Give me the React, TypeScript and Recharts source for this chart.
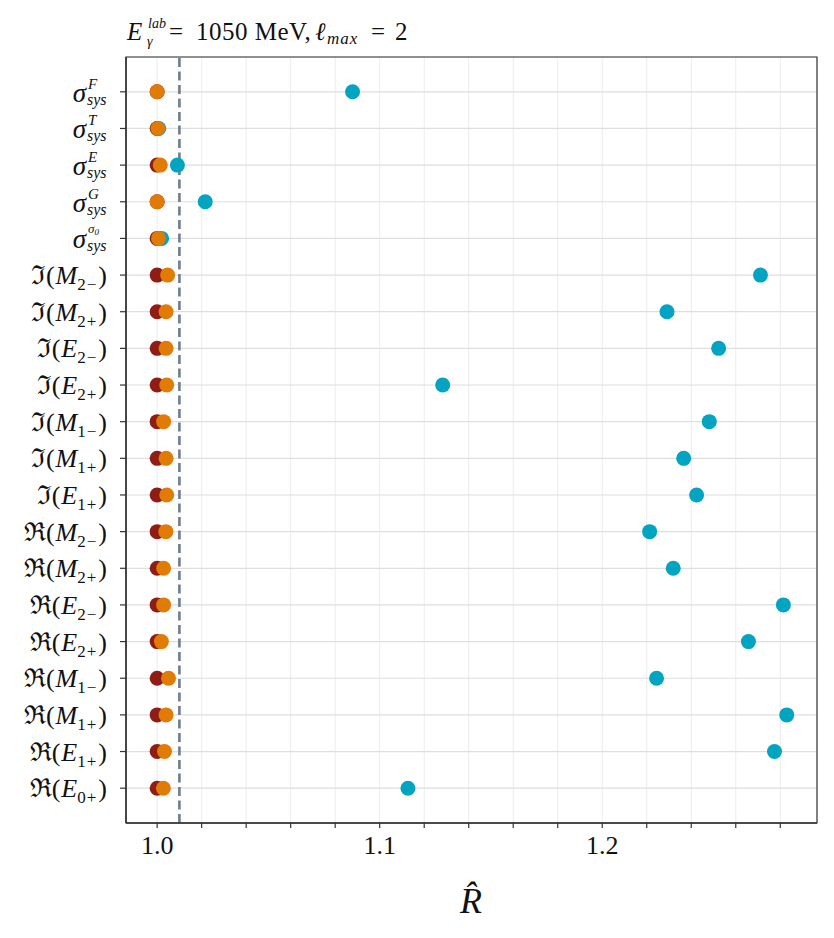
import React from 'react'
import {
  ScatterChart,
  Scatter,
  XAxis,
  YAxis,
  CartesianGrid,
  ReferenceLine,
  ReferenceArea,
} from 'recharts'

// rows from top to bottom
const rowLabels = [
  'σ^F_sys', 'σ^T_sys', 'σ^E_sys', 'σ^G_sys', 'σ^σ0_sys',
  'ℑ(M_2−)', 'ℑ(M_2+)', 'ℑ(E_2−)', 'ℑ(E_2+)', 'ℑ(M_1−)', 'ℑ(M_1+)', 'ℑ(E_1+)',
  'ℜ(M_2−)', 'ℜ(M_2+)', 'ℜ(E_2−)', 'ℜ(E_2+)', 'ℜ(M_1−)', 'ℜ(M_1+)', 'ℜ(E_1+)', 'ℜ(E_0+)',
]

const redValues = [
  1.0, 1.0, 1.0, 1.0, 1.0,
  1.0, 1.0, 1.0, 1.0, 1.0, 1.0, 1.0,
  1.0, 1.0, 1.0, 1.0, 1.0, 1.0, 1.0, 1.0,
]

const orangeValues = [
  1.0, 1.0003, 1.0014, 1.0, 1.0006,
  1.0047, 1.004, 1.004, 1.0043, 1.0029, 1.004, 1.0043,
  1.0039, 1.0029, 1.0029, 1.0019, 1.0051, 1.004, 1.0033, 1.0028,
]

const tealValues = [
  1.0878, 1.0007, 1.0091, 1.0216, 1.002,
  1.2711, 1.2291, 1.2523, 1.1283, 1.2481, 1.2366, 1.2424,
  1.2213, 1.2319, 1.2814, 1.2657, 1.2244, 1.2829, 1.2774, 1.1127,
]

const xTicks = [1.0, 1.02, 1.04, 1.06, 1.08, 1.1, 1.12, 1.14, 1.16, 1.18, 1.2, 1.22, 1.24, 1.26, 1.28]
const xMajor = [1.0, 1.1, 1.2]
const threshold = 1.01

const rows = rowLabels.map((_, i) => i)
const toPoints = (vals: number[]) => vals.map((v, i) => ({ x: v, row: i }))

const FONT = '"Liberation Serif", "DejaVu Serif", serif'

const dot = (color: string) => (props: any) =>
  <circle cx={props.cx} cy={props.cy} r={7.5} fill={color} />

const YTick = (props: any) => {
  const { x, y, payload } = props
  const lab: string = rowLabels[payload.value]
  if (lab.startsWith('σ^')) {
    const sup = lab.slice(2, lab.indexOf('_'))
    const sub = lab.slice(lab.indexOf('_') + 1)
    const xs = x - 20
    return (
      <g fontFamily={FONT} fill="#111">
        <text x={xs - 1} y={y + 10} fontSize={27} fontStyle="italic" textAnchor="end">σ</text>
        {sup.length > 1 ? (
          <text x={xs + 1} y={y - 5} fontSize={13} fontStyle="italic">
            {sup[0]}<tspan dy={2} fontSize={9}>{sup.slice(1)}</tspan>
          </text>
        ) : (
          <text x={xs + 1} y={y - 3} fontSize={15} fontStyle="italic">{sup}</text>
        )}
        <text x={xs} y={y + 13} fontSize={16} fontStyle="italic">{sub}</text>
      </g>
    )
  }
  const part = lab[0]
  const sym = lab[2]
  const sub = lab.slice(4, lab.length - 1)
  return (
    <text x={x} y={y + 9} fontFamily={FONT} fontSize={26} fill="#111" textAnchor="end">
      <tspan>{part}(</tspan>
      <tspan fontStyle="italic" dx={1}>{sym}</tspan>
      <tspan dy={6} fontSize={17}>{sub[0]}</tspan>
      <tspan dx={1} fontSize={17}>{sub[1]}</tspan>
      <tspan dy={-6} dx={2}>)</tspan>
    </text>
  )
}

const XTick = (props: any) => {
  const { x, y, payload } = props
  const major = xMajor.some((m) => Math.abs(m - payload.value) < 1e-9)
  if (!major) return null
  return (
    <text x={x} y={y + 20} fontFamily={FONT} fontSize={26} fill="#111" textAnchor="middle">
      {payload.value.toFixed(1)}
    </text>
  )
}

export default function App() {
  return (
    <div style={{ position: 'absolute', left: 0, top: 0, width: 834, height: 938, background: '#fff' }}>
      <ScatterChart width={834} height={938} margin={{ top: 57, right: 17, bottom: 75, left: 0 }}>
        <CartesianGrid horizontal={false} stroke="#ececec" strokeWidth={1} />
        <CartesianGrid vertical={false} stroke="#dedede" strokeWidth={1.2} />
        <XAxis
          type="number"
          dataKey="x"
          domain={[0.986, 1.2965]}
          ticks={xTicks}
          allowDataOverflow
          height={40}
          tick={<XTick />}
          tickSize={5}
          tickMargin={6}
          axisLine={{ stroke: '#333', strokeWidth: 1.5 }}
          tickLine={{ stroke: '#333', strokeWidth: 1.2 }}
          interval={0}
        />
        <YAxis
          type="number"
          dataKey="row"
          domain={[-0.95, 19.95]}
          ticks={rows}
          reversed
          allowDataOverflow
          width={126}
          tick={<YTick />}
          tickSize={6}
          tickMargin={13}
          axisLine={{ stroke: '#333', strokeWidth: 1.5 }}
          tickLine={{ stroke: '#333', strokeWidth: 1.2 }}
          interval={0}
        />
        <ReferenceArea
          x1={0.986}
          x2={1.2965}
          y1={-0.95}
          y2={19.95}
          fill="none"
          stroke="#333"
          strokeWidth={1.2}
          ifOverflow="visible"
        />
        <Scatter data={toPoints(tealValues)} fill="#02a4c2" shape={dot('#02a4c2')} isAnimationActive={false} />
        <Scatter data={toPoints(redValues)} fill="#8f1d16" shape={dot('#8f1d16')} isAnimationActive={false} />
        <Scatter data={toPoints(orangeValues)} fill="#e07b06" shape={dot('#e07b06')} isAnimationActive={false} />
        <ReferenceLine x={threshold} stroke="#6c7d8f" strokeWidth={2.6} strokeDasharray="9 4.5" />
      </ScatterChart>
      <svg
        width={834}
        height={938}
        style={{ position: 'absolute', left: 0, top: 0, pointerEvents: 'none' }}
        fontFamily={FONT}
        fill="#111"
      >
        <text x={127} y={40} fontSize={25} fontStyle="italic">E</text>
        <text x={148} y={28} fontSize={14} fontStyle="italic">lab</text>
        <text x={147} y={46} fontSize={14} fontStyle="italic">γ</text>
        <text x={169} y={40} fontSize={25}>=</text>
        <text x={196} y={40} fontSize={25} letterSpacing={0.5}>1050 MeV,</text>
        <text x={315} y={40} fontSize={25} fontStyle="italic">ℓ</text>
        <text x={327} y={44} fontSize={17} fontStyle="italic" letterSpacing={1}>max</text>
        <text x={371} y={40} fontSize={25}>=</text>
        <text x={395} y={40} fontSize={25}>2</text>
        <text x={471} y={913} fontSize={36} fontStyle="italic" textAnchor="middle">{'R\u0302'}</text>
      </svg>
    </div>
  )
}
